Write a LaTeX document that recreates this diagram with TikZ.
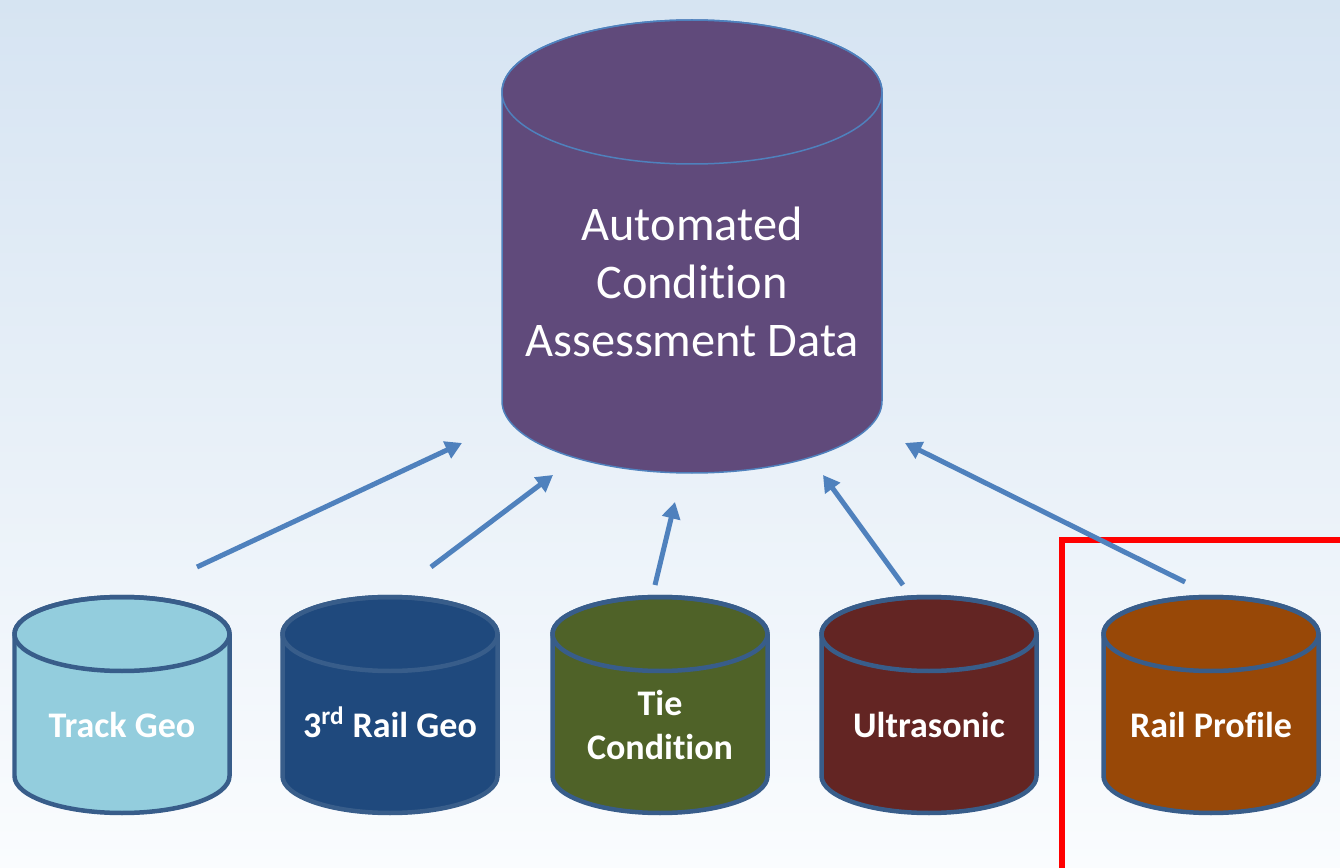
\documentclass[tikz,border=0pt]{standalone}
\usepackage{fontspec}
\setmainfont{Carlito}[Ligatures=NoCommon]
\usetikzlibrary{arrows.meta}
\definecolor{bgtop}{HTML}{D6E4F2}
\definecolor{bgbot}{HTML}{FAFCFE}
\definecolor{acadfill}{HTML}{604A7B}
\definecolor{acadline}{HTML}{4F81BD}
\definecolor{drumline}{HTML}{385D8A}
\definecolor{trackfill}{HTML}{93CDDD}
\definecolor{railfill}{HTML}{1F497D}
\definecolor{tiefill}{HTML}{4F6228}
\definecolor{ultrafill}{HTML}{632523}
\definecolor{proffill}{HTML}{984807}
\definecolor{feedline}{HTML}{4F81BD}
\definecolor{focusred}{HTML}{FF0000}

\begin{document}
\begin{tikzpicture}[x=0.02cm,y=0.02cm,
	drum/.style={draw=drumline,line width=0.09cm,line join=round},
	bigdrum/.style={draw=acadline,line width=0.03cm},
	drumtext/.style={text=white,font=\fontsize{20.5}{25}\selectfont\bfseries,align=center},
	bigtext/.style={text=white,font=\fontsize{27.5}{33}\selectfont,align=center},
	feed/.style={draw=feedline,line width=0.1cm,-{Triangle[length=0.33cm,width=0.36cm]}},
	focusbox/.style={draw=focusred,line width=0.12cm}]
	\clip (0,0) rectangle (1340,867);
	\shade[top color=bgtop,bottom color=bgbot] (0,0) rectangle (1340,867);
	% big store
	\path[bigdrum,fill=acadfill] (502,775) -- (502,466) arc[start angle=180,end angle=360,x radius=190,y radius=72] -- (882,775) arc[start angle=0,end angle=180,x radius=190,y radius=72] -- cycle;
	\draw[bigdrum] (692,775) ellipse[x radius=190,y radius=72];
	\node[bigtext] (acad) at (692,585) {Automated\\Condition\\Assessment Data};
	% source stores
	\foreach \x/\c/\n/\t in {122/trackfill/trackgeo/{Track Geo},390/railfill/railgeo/{3\smash{\textsuperscript{rd}} Rail Geo},660/tiefill/tiecond/{Tie\\Condition},929/ultrafill/ultra/{Ultrasonic},1211/proffill/railprof/{Rail Profile}}
	{
		\path[drum,fill=\c] (\x-107.5,233) -- (\x-107.5,91) arc[start angle=180,end angle=360,x radius=107.5,y radius=37] -- (\x+107.5,233) arc[start angle=0,end angle=180,x radius=107.5,y radius=37] -- cycle;
		\draw[drum] (\x,233) ellipse[x radius=107.5,y radius=37];
		\node[drumtext] (\n) at (\x,142) {\t};
	}
	% highlight
	\draw[focusbox] (1062,-50) rectangle (1400,327);
	% feeds
	\coordinate (trackgeo-out) at (197,300);
	\coordinate (railgeo-out) at (431,300);
	\coordinate (tiecond-out) at (655,282);
	\coordinate (ultra-out) at (903,282);
	\coordinate (railprof-out) at (1185,285);
	\coordinate (acad-in1) at (462,424);
	\coordinate (acad-in2) at (553,392);
	\coordinate (acad-in3) at (675,365);
	\coordinate (acad-in4) at (823,392);
	\coordinate (acad-in5) at (905,424);
	\draw[feed] (trackgeo-out) -- (acad-in1);
	\draw[feed] (railgeo-out) -- (acad-in2);
	\draw[feed] (tiecond-out) -- (acad-in3);
	\draw[feed] (ultra-out) -- (acad-in4);
	\draw[feed] (railprof-out) -- (acad-in5);
\end{tikzpicture}
\end{document}
